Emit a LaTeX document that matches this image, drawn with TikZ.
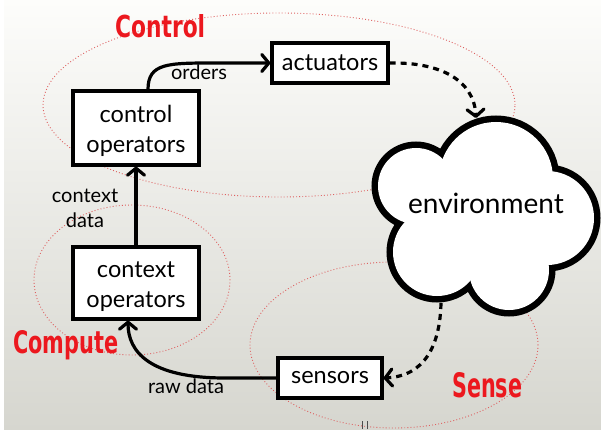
\documentclass[tikz,border=0pt]{standalone}
\usepackage{fontspec}
\setmainfont{Lato}
\newfontfamily\redfont{DejaVu Sans}
\usetikzlibrary{arrows.meta}
\definecolor{bgtop}{RGB}{253,253,251}
\definecolor{bgmid}{RGB}{243,243,239}
\definecolor{bgbot}{RGB}{214,214,207}
\definecolor{ellred}{RGB}{222,96,96}
\definecolor{labred}{RGB}{236,24,30}
\newcommand\tallstrut{\rule{0pt}{23pt}}
\tikzset{
  box/.style={draw=black, line width=3.2pt, fill=white, align=center, inner sep=0pt,
              font=\fontsize{23.5}{30}\selectfont},
  lbl/.style={inner sep=0pt, align=center, font=\fontsize{20}{25}\selectfont},
  ell/.style={draw=ellred, line width=0.9pt, dash pattern=on 0.9pt off 2.2pt},
  arr/.style={line width=3.2pt, line cap=round,
              -{Straight Barb[length=7pt,width=17pt,line cap=round,line join=round]}},
  darr/.style={arr, dash pattern=on 6pt off 5pt, line cap=butt},
  redlbl/.style={inner sep=0pt, anchor=base west, text=labred, font=\redfont\bfseries},
  cloudline/.style={draw=black, line width=13pt},
}
\begin{document}
\begin{tikzpicture}[x=1pt,y=-1pt]
\useasboundingbox (0,0) rectangle (601,430);
\fill[white] (0,0) rectangle (601,430);
\shade[top color=bgtop, middle color=bgmid, bottom color=bgbot] (4,0) rectangle (601,430);

% grouping ellipses
\draw[ell] (279,105) ellipse [x radius=236pt, y radius=92pt];
\draw[ell] (132,280) ellipse [x radius=98pt, y radius=75pt];
\draw[ell] (394,345) ellipse [x radius=144pt, y radius=83pt];

% boxes
\node[box, minimum width=126pt, minimum height=74pt] (cop) at (136,128) {\tallstrut control\\operators};
\node[box, minimum width=116pt, minimum height=40pt] (act) at (330,63) {actuators};
\node[box, minimum width=126pt, minimum height=72pt] (cxo) at (136,283) {\tallstrut context\\operators};
\node[box, minimum width=104pt, minimum height=40pt] (sen) at (330,378) {sensors};

% cloud
\foreach \cx/\cy/\r in {496/179/57, 416/186/38, 437/252/44, 509/270/40, 547/218/47}
  \draw[cloudline] (\cx,\cy) circle [radius=\r pt];
\foreach \cx/\cy/\r in {496/179/57, 416/186/38, 437/252/44, 509/270/40, 547/218/47}
  \fill[white] (\cx,\cy) circle [radius=\r pt];
\fill[white] (496,179) -- (416,186) -- (437,252) -- (509,270) -- (547,218) -- cycle;
\node[inner sep=0pt, font=\fontsize{28}{32}\selectfont] (env) at (486,203) {environment};
\coordinate (envtop) at (476,118);
\coordinate (envbot) at (441,303);

% connectors
\draw[arr] (cxo.north) -- (cop.south);
\draw[arr] ([xshift=12pt]cop.north) .. controls (148,63) and (168,63) .. (215,63) -- (act.west);
\draw[darr] (act.east) .. controls (440,62) and (474,80) .. (envtop);
\draw[darr] (envbot) .. controls (440,345) and (425,376) .. (sen.east);
\draw[arr] (sen.west) -- (225,378) .. controls (150,378) and (128,352) .. ([xshift=-8pt]cxo.south);

% labels
\node[lbl] (orders) at (199,72) {orders};
\node[lbl] (ctxdata) at (85,208) {context\\data};
\node[lbl] (raw) at (186,386) {raw data};

% red group titles
\node[redlbl] (tcontrol) at (115,38) {\resizebox{90pt}{23pt}{Control}};
\node[redlbl] (tcompute) at (13,353) {\resizebox{105pt}{23pt}{Compute}};
\node[redlbl] (tsense) at (452,397) {\resizebox{70pt}{25pt}{Sense}};

% small marks at the bottom
\draw[black!70, line width=0.8pt] (362,421) -- (362,429) (367,421) -- (367,429);
\end{tikzpicture}
\end{document}
